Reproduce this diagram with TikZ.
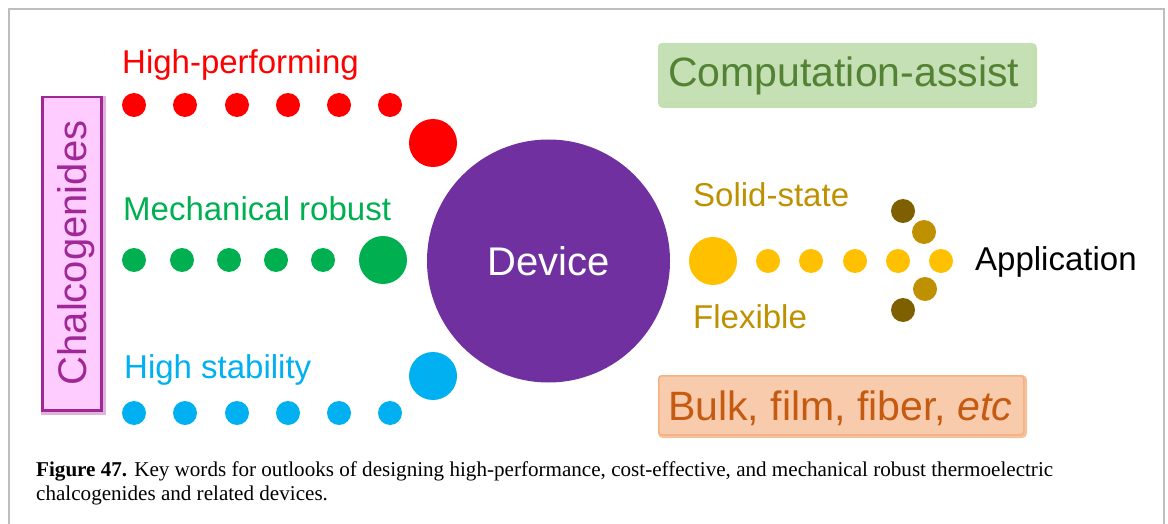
\documentclass[tikz,border=0pt]{standalone}
\usepackage{fontspec}
\setmainfont{Liberation Serif}
\setsansfont{Liberation Sans}
\definecolor{kwred}{RGB}{255,0,0}
\definecolor{kwgreen}{RGB}{0,176,80}
\definecolor{kwblue}{RGB}{0,176,240}
\definecolor{kwpurple}{RGB}{112,48,160}
\definecolor{kwyellow}{RGB}{255,192,0}
\definecolor{kwgold}{RGB}{191,144,0}
\definecolor{kwbrown}{RGB}{127,96,0}
\definecolor{chalfill}{RGB}{255,204,255}
\definecolor{challine}{RGB}{160,40,150}
\definecolor{compfill}{RGB}{197,224,180}
\definecolor{compglow}{RGB}{169,209,142}
\definecolor{comptext}{RGB}{84,130,53}
\definecolor{bulkfill}{RGB}{248,203,173}
\definecolor{bulkglow}{RGB}{244,177,131}
\definecolor{bulktext}{RGB}{197,90,17}
\definecolor{framegray}{RGB}{190,190,190}
\usetikzlibrary{positioning}

\begin{document}
\begin{tikzpicture}[x=1pt, y=-1pt,
    dot/.style={circle, inner sep=0pt, minimum size=24pt, draw=none},
    bigdot/.style={circle, inner sep=0pt, minimum size=48pt, draw=none},
    kw/.style={anchor=base west, inner sep=0pt,
               font=\sffamily\fontsize{33}{40}\selectfont},
    tagbox/.style={rectangle, rounded corners=3pt, inner sep=0pt, anchor=north west},
    captext/.style={anchor=base west, inner sep=0pt, font=\fontsize{21.1}{24}\selectfont}
  ]
    \useasboundingbox (0,0) rectangle (1168,524);
    % page frame, open at the bottom
    \draw[framegray, line width=2pt] (9,524) -- (9,9) -- (1164,9) -- (1164,524);

    % Chalcogenides tag
    \node[tagbox, rounded corners=0pt, minimum width=59pt, minimum height=313pt,
          draw=challine!35, line width=6pt] (chalglow) at (41,96) {};
    \node[tagbox, rounded corners=0pt, minimum width=59pt, minimum height=313pt,
          fill=chalfill, draw=challine, line width=2.5pt] (chalbox) at (41,96) {};
    \node[anchor=base, rotate=90, inner sep=0pt, text=challine,
          font=\sffamily\fontsize{40}{48}\selectfont] (chal) at (86.5,253) {Chalcogenides};

    % High-performing row
    \node[kw, text=kwred] (hplabel) at (122,74) {High-performing};
    \node[dot, fill=kwred] (hp1) at (134,105) {};
    \node[dot, fill=kwred] (hp2) at (185,105) {};
    \node[dot, fill=kwred] (hp3) at (237,105) {};
    \node[dot, fill=kwred] (hp4) at (288,105) {};
    \node[dot, fill=kwred] (hp5) at (339,105) {};
    \node[dot, fill=kwred] (hp6) at (390,105) {};
    \node[bigdot, fill=kwred] (hpbig) at (433,143) {};

    % Mechanical robust row
    \node[kw, text=kwgreen] (mrlabel) at (123,220) {Mechanical robust};
    \node[dot, fill=kwgreen] (mr1) at (134,260) {};
    \node[dot, fill=kwgreen] (mr2) at (182,260) {};
    \node[dot, fill=kwgreen] (mr3) at (229,260) {};
    \node[dot, fill=kwgreen] (mr4) at (276,260) {};
    \node[dot, fill=kwgreen] (mr5) at (323,260) {};
    \node[bigdot, fill=kwgreen] (mrbig) at (383,260) {};

    % High stability row
    \node[kw, text=kwblue] (hslabel) at (124,378) {High stability};
    \node[dot, fill=kwblue] (hs1) at (134,413) {};
    \node[dot, fill=kwblue] (hs2) at (185,413) {};
    \node[dot, fill=kwblue] (hs3) at (237,413) {};
    \node[dot, fill=kwblue] (hs4) at (288,413) {};
    \node[dot, fill=kwblue] (hs5) at (339,413) {};
    \node[dot, fill=kwblue] (hs6) at (390,413) {};
    \node[bigdot, fill=kwblue] (hsbig) at (433,376) {};

    % Device
    \node[circle, inner sep=0pt, minimum size=243pt, fill=kwpurple, text=white,
          font=\sffamily\fontsize{40}{48}\selectfont] (device) at (548.5,261) {Device};

    % Computation-assist tag
    \node[tagbox, minimum width=374pt, minimum height=60pt,
          draw=compglow!70, line width=5pt] (compglow) at (658,43) {};
    \node[tagbox, minimum width=374pt, minimum height=60pt,
          fill=compfill] (compbox) at (658,43) {};
    \node[anchor=base west, inner sep=0pt, text=comptext,
          font=\sffamily\fontsize{41}{48}\selectfont] (comp) at (668,87) {Computation-assist};

    % Bulk tag
    \node[tagbox, minimum width=365pt, minimum height=59pt,
          draw=bulkglow!80, line width=4pt] (bulkglow) at (658,375) {};
    \node[tagbox, minimum width=365pt, minimum height=59pt,
          fill=bulkfill, draw=bulkglow, line width=1.5pt] (bulkbox) at (658,375) {};
    \node[anchor=base west, inner sep=0pt, text=bulktext,
          font=\sffamily\fontsize{41}{48}\selectfont] (bulk) at (668,420)
      {Bulk, film, fiber, \textit{etc}};

    % Application side
    \node[kw, text=kwgold] (sslabel) at (693,207) {Solid-state};
    \node[kw, text=kwgold] (fxlabel) at (693,328) {Flexible};
    \node[bigdot, fill=kwyellow] (appbig) at (713,261) {};
    \node[dot, fill=kwyellow] (ap1) at (768,261) {};
    \node[dot, fill=kwyellow] (ap2) at (811,261) {};
    \node[dot, fill=kwyellow] (ap3) at (855,261) {};
    \node[dot, fill=kwyellow] (ap4) at (898,261) {};
    \node[dot, fill=kwyellow] (ap5) at (941,261) {};
    \node[dot, fill=kwgold] (tipu) at (924,232) {};
    \node[dot, fill=kwgold] (tipd) at (925,289) {};
    \node[dot, fill=kwbrown] (endu) at (903,211) {};
    \node[dot, fill=kwbrown] (endd) at (903,310) {};
    \node[kw, text=black] (applabel) at (975,270) {Application};

    % Caption
    \node[captext] (cap1) at (36,476)
      {\textbf{Figure 47.} Key words for outlooks of designing high-performance, cost-effective, and mechanical robust thermoelectric};
    \node[captext] (cap2) at (36,500) {chalcogenides and related devices.};
  \end{tikzpicture}
\end{document}
